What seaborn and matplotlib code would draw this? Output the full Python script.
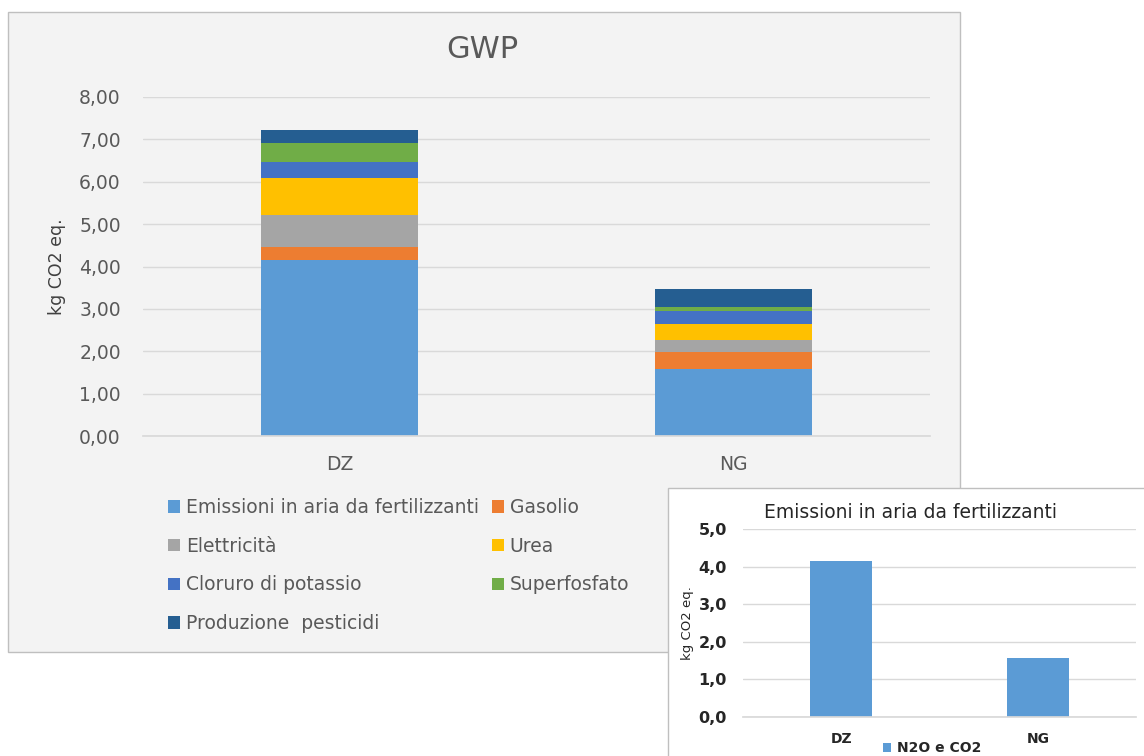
import matplotlib
matplotlib.use("Agg")
import matplotlib.pyplot as plt
import seaborn as sns
from matplotlib.patches import Patch, Rectangle

# data (kg CO2 eq.)
categories = ['DZ', 'NG']
emissioni = [4.15, 1.57]
gasolio = [0.32, 0.41]
elettricita = [0.75, 0.29]
urea = [0.88, 0.38]
cloruro = [0.37, 0.31]
superfosfato = [0.44, 0.08]
pesticidi = [0.31, 0.42]

series_names = ['Emissioni in aria da fertilizzanti', 'Gasolio', 'Elettricità', 'Urea',
                'Cloruro di potassio', 'Superfosfato', 'Produzione  pesticidi']
series_values = [emissioni, gasolio, elettricita, urea, cloruro, superfosfato, pesticidi]
colors = ['#5B9BD5', '#ED7D31', '#A5A5A5', '#FFC000', '#4472C4', '#70AD47', '#255E91']

main_ticks = [0, 1, 2, 3, 4, 5, 6, 7, 8]
inset_ticks = [0, 1, 2, 3, 4, 5]
inset_legend = 'N2O e CO2'

sns.set_theme(style='white')
plt.rcParams['font.family'] = ['DejaVu Sans']

W, H = 1144, 756
fig = plt.figure(figsize=(W / 100, H / 100), dpi=100)
fig.patch.set_facecolor('white')


def fx(px):
    return px / W


def fy(py):
    return 1 - py / H


# background panels
fig.patches.append(Rectangle((fx(8), fy(652)), fx(952), (652 - 12) / H, transform=fig.transFigure,
                             facecolor='#f3f3f3', edgecolor='#bfbfbf', lw=1, zorder=-5))
fig.patches.append(Rectangle((fx(668), fy(757)), fx(480), (757 - 488) / H, transform=fig.transFigure,
                             facecolor='white', edgecolor='#bfbfbf', lw=1, zorder=0.5))

# ---- main stacked chart ----
ax = fig.add_axes([fx(143), fy(436), fx(930 - 143), (436 - 97) / H])
ax.set_facecolor('none')
bottom = [0.0, 0.0]
for name, vals, c in zip(series_names, series_values, colors):
    sns.barplot(x=categories, y=vals, bottom=bottom, color=c, saturation=1, width=0.4,
                errorbar=None, ax=ax, linewidth=0)
    bottom = [b + v for b, v in zip(bottom, vals)]

ax.set_xlim(-0.5, 1.5)
ax.set_ylim(0, 8)
ax.set_yticks(main_ticks)
ax.set_yticklabels([f"{t:.2f}".replace('.', ',') for t in main_ticks])
ax.yaxis.grid(True, color='#d9d9d9', lw=1)
ax.set_axisbelow(True)
for s in ['top', 'right', 'left']:
    ax.spines[s].set_visible(False)
ax.spines['bottom'].set_color('#d9d9d9')
ax.tick_params(axis='both', length=0, labelsize=13.5, colors='#595959')
ax.tick_params(axis='x', pad=14)
ax.tick_params(axis='y', pad=16)
ax.set_ylabel('kg CO2 eq.', fontsize=12.5, color='#404040')
ax.yaxis.set_label_coords((66 - 143) / 787, 0.5)
ax.set_xlabel('')
fig.text(fx(482), fy(50), 'GWP', ha='center', va='center', fontsize=22, color='#595959')

handles = [Patch(facecolor=c, edgecolor='none') for c in colors]
leg_kw = dict(loc='upper left', bbox_transform=fig.transFigure, frameon=False, fontsize=13.5,
              handlelength=0.65, handleheight=0.65, handletextpad=0.3, labelspacing=1.05,
              labelcolor='#595959', borderpad=0, borderaxespad=0)
col1 = [0, 2, 4, 6]
col2 = [1, 3, 5]
leg1 = fig.legend([handles[i] for i in col1], [series_names[i] for i in col1],
                  bbox_to_anchor=(fx(168), fy(498)), **leg_kw)
leg2 = fig.legend([handles[i] for i in col2], [series_names[i] for i in col2],
                  bbox_to_anchor=(fx(492), fy(498)), **leg_kw)

# ---- inset chart ----
ax2 = fig.add_axes([fx(743), fy(717), fx(1136 - 743), (717 - 529) / H], zorder=1)
ax2.set_facecolor('none')
sns.barplot(x=categories, y=emissioni, color=colors[0], saturation=1, width=0.315,
            errorbar=None, ax=ax2, linewidth=0)
ax2.set_xlim(-0.5, 1.5)
ax2.set_ylim(0, 5)
ax2.set_yticks(inset_ticks)
ax2.set_yticklabels([f"{t:.1f}".replace('.', ',') for t in inset_ticks])
ax2.yaxis.grid(True, color='#d9d9d9', lw=1)
ax2.set_axisbelow(True)
for s in ['top', 'right', 'left']:
    ax2.spines[s].set_visible(False)
ax2.spines['bottom'].set_color('#d9d9d9')
ax2.tick_params(axis='y', length=0, labelsize=11.5, colors='#262626', pad=11.5)
ax2.tick_params(axis='x', length=0, labelsize=10, colors='#262626', pad=11)
for lab in ax2.get_xticklabels() + ax2.get_yticklabels():
    lab.set_fontweight('bold')
ax2.set_ylabel('kg CO2 eq.', fontsize=9.5, color='#262626')
ax2.yaxis.set_label_coords((694 - 743) / 393, 0.5)
ax2.set_xlabel('')
fig.text(fx(910), fy(513), 'Emissioni in aria da fertilizzanti', ha='center', va='center',
         fontsize=13.5, color='#262626', zorder=2)
ax2.legend([Patch(facecolor=colors[0], edgecolor='none')], [inset_legend], loc='center left',
           bbox_to_anchor=(fx(883), fy(748)), bbox_transform=fig.transFigure, frameon=False,
           handlelength=0.6, handleheight=0.6, handletextpad=0.4, labelcolor='#262626',
           borderpad=0, borderaxespad=0, prop={'weight': 'bold', 'size': 10})

fig.savefig('out.png', dpi=100)
